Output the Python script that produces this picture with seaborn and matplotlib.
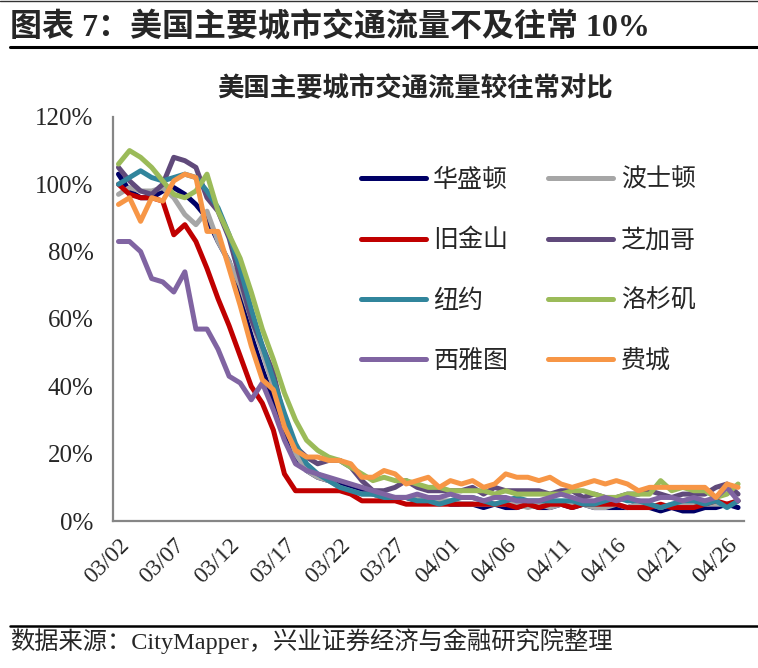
import pandas as pd
import matplotlib.pyplot as plt
import seaborn as sns
from matplotlib.lines import Line2D
from matplotlib.ticker import FuncFormatter, FixedLocator

sns.set_style('white')
plt.rcParams['font.family'] = ['Liberation Serif', 'Noto Sans CJK SC', 'DejaVu Sans']

# Daily traffic vs. normal (%), 03/02 .. 04/27
day_labels = ['03/02', '03/07', '03/12', '03/17', '03/22', '03/27',
              '04/01', '04/06', '04/11', '04/16', '04/21', '04/26']

washington = [103, 98, 96, 96, 98, 99, 97, 94, 90, 83, 77, 66, 55, 45, 36, 27, 19, 15, 13, 12,
              11, 10, 9, 8, 7, 7, 7, 6, 6, 6, 5, 5, 5, 4, 5, 4, 4, 5, 4, 4,
              5, 4, 5, 4, 4, 4, 4, 5, 4, 3, 4, 3, 3, 4, 4, 5, 4]
boston = [97, 99, 98, 98, 99, 96, 91, 88, 92, 83, 77, 70, 60, 50, 40, 30, 20, 15, 13, 12,
          10, 9, 8, 8, 7, 7, 7, 7, 6, 6, 6, 5, 5, 5, 5, 5, 5, 4, 5, 4,
          5, 5, 5, 4, 4, 5, 4, 5, 5, 4, 5, 5, 5, 5, 5, 5, 6]
san_francisco = [100, 97, 96, 96, 95, 85, 88, 83, 75, 66, 58, 49, 40, 35, 27, 14, 9, 9, 9, 9,
                 9, 8, 6, 6, 6, 6, 5, 5, 5, 5, 5, 5, 5, 5, 5, 5, 4, 5, 4, 5,
                 5, 4, 5, 5, 5, 5, 4, 4, 4, 5, 4, 4, 4, 5, 6, 5, 6]
chicago = [105, 101, 98, 97, 100, 108, 107, 105, 96, 92, 84, 72, 60, 52, 44, 30, 22, 19, 17, 18,
           18, 16, 12, 9, 9, 10, 12, 10, 9, 9, 9, 9, 10, 8, 10, 9, 9, 9, 9, 8,
           9, 9, 7, 8, 7, 7, 8, 8, 9, 8, 7, 8, 8, 8, 10, 11, 8]
new_york = [100, 102, 104, 102, 101, 102, 103, 102, 98, 93, 85, 75, 63, 52, 42, 32, 23, 17, 14, 12,
            10, 9, 8, 8, 7, 7, 7, 6, 6, 5, 6, 7, 7, 6, 5, 6, 7, 6, 6, 6,
            6, 6, 5, 5, 6, 7, 6, 6, 5, 4, 5, 6, 6, 5, 6, 4, 6]
los_angeles = [106, 110, 108, 105, 101, 97, 96, 98, 103, 92, 85, 78, 68, 57, 48, 38, 30, 24, 21, 19,
               18, 16, 14, 12, 13, 12, 12, 11, 10, 10, 9, 9, 9, 9, 8, 9, 8, 8, 8, 8,
               8, 9, 9, 8, 7, 7, 8, 8, 8, 12, 9, 10, 9, 9, 7, 8, 11]
seattle = [83, 83, 80, 72, 71, 68, 74, 57, 57, 51, 43, 41, 36, 41, 33, 24, 17, 15, 14, 13,
           12, 11, 10, 9, 8, 7, 7, 8, 7, 7, 8, 7, 7, 6, 7, 7, 6, 6, 6, 7,
           8, 7, 6, 6, 7, 6, 7, 6, 6, 7, 7, 6, 7, 6, 7, 10, 6]
philadelphia = [94, 96, 89, 96, 95, 101, 103, 102, 86, 86, 75, 64, 52, 42, 39, 28, 21, 19, 19, 18,
                18, 17, 13, 13, 15, 14, 11, 12, 13, 10, 12, 11, 12, 10, 11, 14, 13, 13, 12, 13,
                11, 10, 11, 12, 11, 12, 11, 9, 10, 10, 10, 10, 10, 10, 7, 11, 10]

cities = ['华盛顿', '波士顿', '旧金山', '芝加哥', '纽约', '洛杉矶', '西雅图', '费城']
series = [washington, boston, san_francisco, chicago, new_york, los_angeles, seattle, philadelphia]
colors = ['#000066', '#A6A6A6', '#C00000', '#604A7B', '#31859C', '#9BBB59', '#8064A2', '#F79646']

n_days = len(washington)
days = list(range(n_days))

fig = plt.figure(figsize=(7.58, 6.68), dpi=100)
ax = fig.add_axes([0.149, 0.22, 0.832, 0.605])

handles = {}
for city, vals, col in zip(cities, series, colors):
    sns.lineplot(x=days, y=vals, ax=ax, color=col, linewidth=3.6, label=city, legend=False)
    handles[city] = ax.lines[-1]

ax.set_xlim(-0.5, n_days - 0.5)
ax.set_ylim(0, 120)
ax.set_yticks(range(0, 121, 20))
ax.yaxis.set_major_formatter(FuncFormatter(lambda v, p: f'{v:.0f}%'))
ax.set_xticks(range(0, n_days, 5))
ax.set_xticklabels(day_labels, rotation=45, ha='right', rotation_mode='anchor')
ax.xaxis.set_minor_locator(FixedLocator([k - 0.5 for k in range(5, n_days, 5)]))
ax.set_xlabel('')
ax.set_ylabel('')

for side in ['top', 'right']:
    ax.spines[side].set_visible(False)
for side in ['left', 'bottom']:
    ax.spines[side].set_color('#868686')
    ax.spines[side].set_linewidth(1.6)

ax.tick_params(axis='y', which='major', direction='in', length=5, width=1.4, color='#868686',
               labelsize=18, pad=14)
ax.tick_params(axis='x', which='major', length=0, labelsize=17, pad=10)
ax.tick_params(axis='x', which='minor', direction='in', length=5, width=1.4, color='#868686')

# legend: row-major in the reference, matplotlib fills columns first
order = ['华盛顿', '旧金山', '纽约', '西雅图', '波士顿', '芝加哥', '洛杉矶', '费城']
leg_handles = [Line2D([0], [0], color=handles[c].get_color(), lw=3.6, solid_capstyle='round') for c in order]
ax.legend(leg_handles, order, ncol=2, frameon=False, loc='upper left',
          bbox_to_anchor=(0.476, 0.750), bbox_transform=fig.transFigure,
          borderaxespad=0, borderpad=0, handlelength=2.6, handletextpad=0.3,
          columnspacing=1.6, labelspacing=1.37,
          prop={'family': ['Noto Sans CJK SC'], 'size': 18})

fig.text(0.548, 0.868, '美国主要城市交通流量较往常对比', ha='center', va='center',
         fontsize=19, fontweight='bold', family=['Noto Sans CJK SC'])

fig.text(0.013, 0.959, '图表 7：美国主要城市交通流量不及往常 10%', ha='left', va='center',
         fontsize=23, fontweight='bold', family=['Liberation Serif', 'Noto Sans CJK SC'])
fig.add_artist(Line2D([0.013, 1.0], [0.929, 0.929], transform=fig.transFigure, color='black', lw=2.2))
fig.add_artist(Line2D([0, 1.0], [0.999, 0.999], transform=fig.transFigure, color='#333333', lw=1))
fig.add_artist(Line2D([0.013, 1.0], [0.063, 0.063], transform=fig.transFigure, color='black', lw=1.8))
fig.text(0.013, 0.040, '数据来源：CityMapper，兴业证券经济与金融研究院整理', ha='left', va='center',
         fontsize=17.5, family=['Liberation Serif', 'Noto Sans CJK SC'])

fig.savefig('out.png', dpi=100)
